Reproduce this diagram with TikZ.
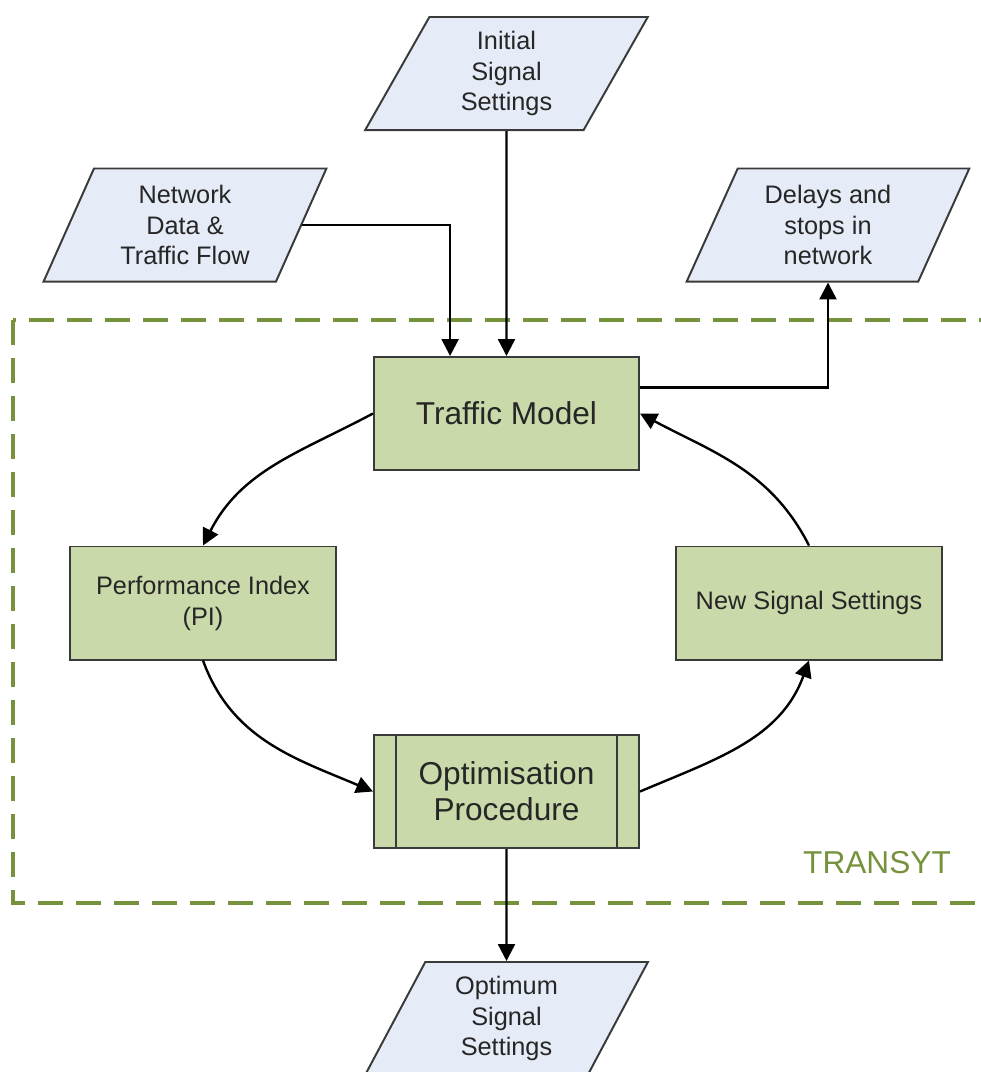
\documentclass[tikz,border=0pt]{standalone}
\usepackage{fontspec}
\setmainfont{Liberation Sans}
\usetikzlibrary{arrows.meta,shapes.geometric}
\definecolor{ink}{HTML}{262626}
\definecolor{edge}{HTML}{3A3A3A}
\definecolor{leaf}{HTML}{CAD9A9}
\definecolor{sky}{HTML}{E6ECF7}
\definecolor{olive}{HTML}{76923C}
\tikzset{proc/.style={draw=edge,fill=leaf,line width=1.4pt,minimum width=6.625cm,minimum height=2.825cm,align=center,text=ink,inner sep=2pt,font=\fontsize{18}{22}\selectfont},bigproc/.style={proc,font=\fontsize{22.5}{25.5}\selectfont},data/.style={trapezium,trapezium stretches=true,trapezium left angle=66,trapezium right angle=114,draw=edge,fill=sky,line width=1.4pt,minimum width=7.075cm,minimum height=2.825cm,align=center,text=ink,inner sep=0pt,font=\fontsize{18}{22}\selectfont},arr/.style={-{Triangle[length=4.2mm,width=4.2mm]},line width=1.7pt,draw=black},zone/.style={draw=olive,line width=2.2pt,dash pattern=on 0.625cm off 0.325cm}}

\begin{document}
\begin{tikzpicture}[x=0.025cm,y=-0.025cm]
\useasboundingbox (0,0) rectangle (980,1072);
\draw[zone] (13,320) rectangle (990,903);
\node[text=olive,font=\fontsize{22.5}{25.5}\selectfont] (transyt) at (877,863) {TRANSYT};
\node[data] (init) at (506.5,73.5) {Initial\\Signal\\Settings};
\node[data] (net) at (185,225) {Network\\Data \&\\Traffic Flow};
\node[data] (delay) at (828,225) {Delays and\\stops in\\network};
\node[bigproc] (model) at (506.5,413.5) {Traffic Model};
\node[proc] (pi) at (203,603) {Performance Index\\(PI)};
\node[proc] (newsig) at (809,603) {New Signal Settings};
\node[bigproc] (opt) at (506.5,791.5) {Optimisation\\Procedure};
\draw[draw=edge,line width=1.4pt] ([xshift=0.575cm]opt.north west) -- ([xshift=0.575cm]opt.south west);
\draw[draw=edge,line width=1.4pt] ([xshift=-0.575cm]opt.north east) -- ([xshift=-0.575cm]opt.south east);
\node[data] (optimum) at (506.5,1018.5) {Optimum\\Signal\\Settings};
% inputs and outputs
\draw[arr] (init.south) -- (model.north);
\draw[arr] (net.east) -| ([xshift=-1.41cm]model.north);
\draw[arr] ([yshift=0.65cm]model.east) -| (delay.south);
\draw[arr] (opt.south) -- (optimum.north);
% optimisation loop
\draw[arr] (model.west) to[out=208,in=63] (pi.north);
\draw[arr] (pi.south) to[out=-70,in=157] (opt.west);
\draw[arr] (opt.east) to[out=23,in=-110] (newsig.south);
\draw[arr] (newsig.north) to[out=117,in=-28] (model.east);
\end{tikzpicture}
\end{document}
